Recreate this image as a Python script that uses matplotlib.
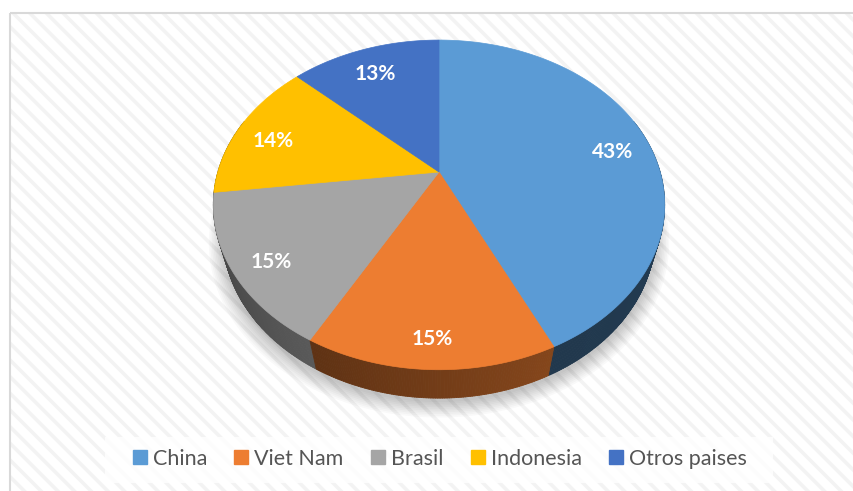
import numpy as np
import matplotlib.pyplot as plt
from matplotlib.patches import Polygon, Rectangle
from matplotlib.collections import PolyCollection
from matplotlib.lines import Line2D

plt.rcParams['font.family'] = ['Lato', 'DejaVu Sans']
plt.rcParams['hatch.linewidth'] = 2.6

# datos
paises = ['China', 'Viet Nam', 'Brasil', 'Indonesia', 'Otros paises']
porcentajes = [43, 15, 15, 14, 13]
etiquetas = ['43%', '15%', '15%', '14%', '13%']

# estilo
colores = ['#5B9BD5', '#ED7D31', '#A5A5A5', '#FFC000', '#4472C4']
sombra_lado = [(0.40, 0.36), (0.56, 0.40), (0.54, 0.38), (0.55, 0.45), (0.50, 0.40)]

W, H = 854, 491
cx, cy = 439, 172          # centro de la tarta en pantalla
foc, dist = 774.0, 3.5     # perspectiva
phi = np.radians(45.7)     # inclinacion
alto = 0.21                # grosor


def proj(th, r=1.0, z=0.0):
    x = r * np.cos(th)
    y = r * np.sin(th)
    depth = y * np.cos(phi) - z * np.sin(phi) + dist
    up = y * np.sin(phi) + z * np.cos(phi)
    return cx + foc * x / depth, cy - foc * up / depth


def rgb(c):
    c = c.lstrip('#')
    return np.array([int(c[i:i + 2], 16) for i in (0, 2, 4)]) / 255.0


fig = plt.figure(figsize=(8.54, 4.91), dpi=100)
ax = fig.add_axes([0, 0, 1, 1])
ax.set_xlim(0, W)
ax.set_ylim(H, 0)
ax.axis('off')

# fondo rayado
ax.add_patch(Rectangle((10.5, 12.5), W, H, facecolor='white', edgecolor='#f3f3f3',
                       hatch='\\\\', lw=0, zorder=0))
ax.add_patch(Rectangle((10.5, 12.5), W, H, facecolor='none', edgecolor='#d9d9d9',
                       lw=1.5, zorder=0.5))

# angulos de cada porcion (empieza arriba, sentido horario)
total = float(sum(porcentajes))
cum = np.concatenate([[0], np.cumsum(porcentajes)]) / total
ini = np.radians(90 - 360 * cum[:-1])
fin = np.radians(90 - 360 * cum[1:])

# sombra
tt = np.linspace(0, 2 * np.pi, 300)
for k in range(10):
    sx, sy = proj(tt, 1 + 0.007 * k, -alto)
    ax.add_patch(Polygon(np.column_stack([sx, sy + 4]), closed=True, facecolor='black',
                         edgecolor='none', alpha=0.025, zorder=1))

# laterales
lim_a, lim_b = np.radians(20), np.radians(-200)
tiras, cols, prof = [], [], []
for i in range(len(porcentajes)):
    a = min(ini[i], lim_a)
    b = max(fin[i], lim_b)
    if a <= b:
        continue
    th = np.linspace(a, b, max(int(np.degrees(a - b) * 2), 2))
    base = rgb(colores[i])
    f0, f1 = sombra_lado[i]
    for j in range(len(th) - 1):
        t = j / max(len(th) - 2, 1)
        f = f0 + (f1 - f0) * t
        x1, y1 = proj(th[j])
        x2, y2 = proj(th[j + 1])
        x3, y3 = proj(th[j + 1], z=-alto)
        x4, y4 = proj(th[j], z=-alto)
        tiras.append([(x1, y1), (x2, y2), (x3, y3), (x4, y4)])
        cols.append(np.clip(base * f, 0, 1))
        prof.append(np.sin(0.5 * (th[j] + th[j + 1])))
orden = np.argsort(prof)[::-1]
ax.add_collection(PolyCollection([tiras[k] for k in orden], facecolors=[cols[k] for k in orden],
                                 edgecolors=[cols[k] for k in orden], linewidths=0.6, zorder=2))

# caras superiores
for i in range(len(porcentajes)):
    th = np.linspace(ini[i], fin[i], 200)
    px, py = proj(th)
    pts = np.vstack([[cx, cy], np.column_stack([px, py])])
    ax.add_patch(Polygon(pts, closed=True, facecolor=colores[i], edgecolor=colores[i],
                         lw=0.5, zorder=3))
    mx, my = proj(0.5 * (ini[i] + fin[i]), 0.84, -0.05)
    ax.text(mx, my, etiquetas[i], ha='center', va='center', color='white',
            fontsize=15, fontweight='bold', zorder=4)

# leyenda
ax.add_patch(Rectangle((105, 437), 668, 46, facecolor='white', edgecolor='none',
                       alpha=0.8, zorder=5))
handles = [Line2D([], [], marker='s', ls='none', color=c, markersize=9.5) for c in colores]
leg = ax.legend(handles, paises, loc='center', bbox_to_anchor=(440.0 / W, 1 - 459.0 / H),
                bbox_transform=fig.transFigure, ncol=5, frameon=False, fontsize=15.5,
                labelcolor='#555555', handlelength=0.6, handletextpad=0.3,
                columnspacing=1.3, borderpad=0.2)
leg.set_zorder(6)

fig.savefig('out.png', dpi=100)
